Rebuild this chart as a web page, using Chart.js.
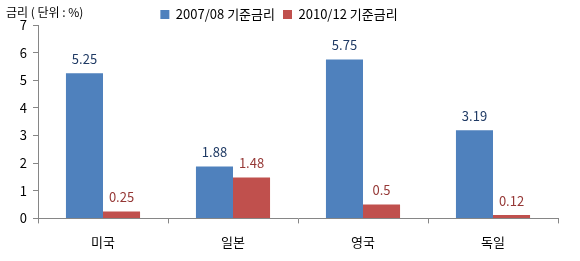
<!DOCTYPE html>
<html>
<head>
<meta charset="utf-8">
<script src="https://cdn.jsdelivr.net/npm/chart.js@4"></script>
<style>
  html, body { margin: 0; padding: 0; background: #fff; }
  #wrap { width: 580px; height: 261px; }
</style>
</head>
<body>
<div id="wrap"><canvas id="rateChart"></canvas></div>
<script>
const countries = ['미국', '일본', '영국', '독일'];
const rates2007 = [5.25, 1.88, 5.75, 3.19];
const rates2010 = [0.25, 1.48, 0.5, 0.12];
const seriesNames = ['2007/08 기준금리', '2010/12 기준금리'];
const yTitle = '금리 ( 단위 : %)';

const fontFamily = '"Noto Sans CJK KR", "Noto Sans", sans-serif';

// value labels above each bar
const valueLabels = {
    id: 'valueLabels',
    afterDatasetsDraw(chart) {
        const ctx = chart.ctx;
        const colors = ['#1f3a64', '#953735'];
        ctx.save();
        ctx.font = '13px ' + fontFamily;
        ctx.textAlign = 'center';
        ctx.textBaseline = 'bottom';
        chart.data.datasets.forEach(function(ds, i) {
            const meta = chart.getDatasetMeta(i);
            ctx.fillStyle = colors[i];
            meta.data.forEach(function(bar, j) {
                ctx.fillText(String(ds.data[j]), bar.x, bar.y - 8);
            });
        });
        ctx.restore();
    }
};

// unit text in the top left corner, and a shorter legend box
const unitTitle = {
    id: 'unitTitle',
    beforeInit(chart) {
        const legend = chart.legend;
        if (legend) {
            const fit = legend.fit;
            legend.fit = function() {
                fit.call(this);
                this.height -= 6;
            };
        }
    },
    afterDraw(chart) {
        const ctx = chart.ctx;
        ctx.save();
        ctx.font = '12px ' + fontFamily;
        ctx.fillStyle = '#000';
        ctx.textAlign = 'left';
        ctx.textBaseline = 'middle';
        ctx.fillText(yTitle, 6, 12);
        ctx.restore();
    }
};

const ctx = document.getElementById('rateChart').getContext('2d');
const chart = new Chart(ctx, {
    type: 'bar',
    data: {
        labels: countries,
        datasets: [
            {
                label: seriesNames[0],
                data: rates2007,
                backgroundColor: '#4f81bd',
                barPercentage: 1,
                categoryPercentage: 0.57
            },
            {
                label: seriesNames[1],
                data: rates2010,
                backgroundColor: '#c0504d',
                barPercentage: 1,
                categoryPercentage: 0.57
            }
        ]
    },
    options: {
        responsive: true,
        maintainAspectRatio: false,
        animation: false,
        layout: { padding: { left: 0, right: 22, top: 0, bottom: 0 } },
        plugins: {
            legend: {
                position: 'top',
                labels: {
                    boxWidth: 9,
                    boxHeight: 9,
                    padding: 8,
                    color: '#000',
                    font: { size: 13, family: fontFamily }
                }
            },
            tooltip: { enabled: false }
        },
        scales: {
            y: {
                min: 0,
                max: 7,
                ticks: {
                    stepSize: 1,
                    color: '#000',
                    padding: 6,
                    font: { size: 13, family: fontFamily }
                },
                grid: {
                    drawOnChartArea: false,
                    tickLength: 5,
                    color: '#868686'
                },
                border: { color: '#868686' },
                afterFit: function(scale) { scale.width = 38; }
            },
            x: {
                ticks: {
                    color: '#000',
                    padding: 11,
                    font: { size: 13, family: fontFamily }
                },
                grid: {
                    offset: true,
                    drawOnChartArea: false,
                    tickLength: 5,
                    color: '#868686'
                },
                border: { color: '#868686' }
            }
        }
    },
    plugins: [valueLabels, unitTitle]
});
</script>
</body>
</html>
